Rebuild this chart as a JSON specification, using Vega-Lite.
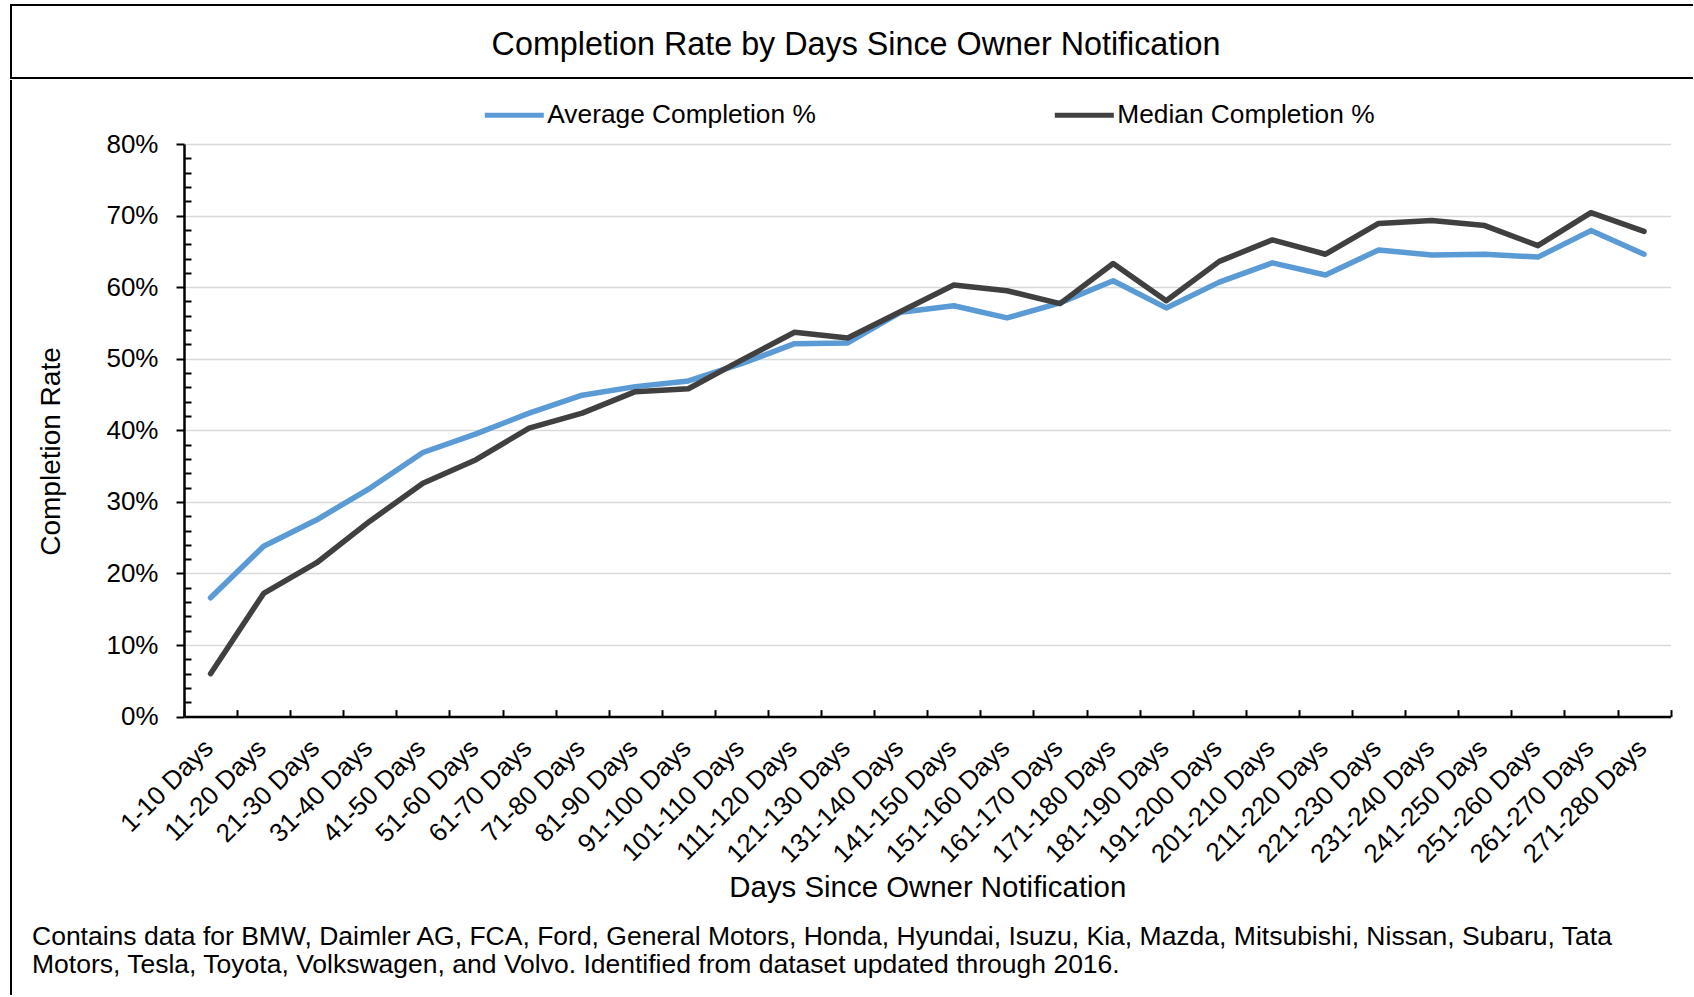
{
  "$schema": "https://vega.github.io/schema/vega-lite/v6.json",
  "padding": {"left": 10, "top": 4, "right": 0, "bottom": 0},
  "background": "white",
  "config": {
    "font": "Liberation Sans",
    "view": {"stroke": null}
  },
  "datasets": {
    "heading": [{"t": "Completion Rate by Days Since Owner Notification"}],
    "none": [],
    "rates": [
      {"cat": "1-10 Days", "series": "Average Completion %", "v": 0.166},
      {"cat": "11-20 Days", "series": "Average Completion %", "v": 0.238},
      {"cat": "21-30 Days", "series": "Average Completion %", "v": 0.275},
      {"cat": "31-40 Days", "series": "Average Completion %", "v": 0.319},
      {"cat": "41-50 Days", "series": "Average Completion %", "v": 0.369},
      {"cat": "51-60 Days", "series": "Average Completion %", "v": 0.395},
      {"cat": "61-70 Days", "series": "Average Completion %", "v": 0.424},
      {"cat": "71-80 Days", "series": "Average Completion %", "v": 0.449},
      {"cat": "81-90 Days", "series": "Average Completion %", "v": 0.461},
      {"cat": "91-100 Days", "series": "Average Completion %", "v": 0.469},
      {"cat": "101-110 Days", "series": "Average Completion %", "v": 0.493},
      {"cat": "111-120 Days", "series": "Average Completion %", "v": 0.521},
      {"cat": "121-130 Days", "series": "Average Completion %", "v": 0.522},
      {"cat": "131-140 Days", "series": "Average Completion %", "v": 0.565},
      {"cat": "141-150 Days", "series": "Average Completion %", "v": 0.574},
      {"cat": "151-160 Days", "series": "Average Completion %", "v": 0.557},
      {"cat": "161-170 Days", "series": "Average Completion %", "v": 0.578},
      {"cat": "171-180 Days", "series": "Average Completion %", "v": 0.609},
      {"cat": "181-190 Days", "series": "Average Completion %", "v": 0.571},
      {"cat": "191-200 Days", "series": "Average Completion %", "v": 0.607},
      {"cat": "201-210 Days", "series": "Average Completion %", "v": 0.634},
      {"cat": "211-220 Days", "series": "Average Completion %", "v": 0.617},
      {"cat": "221-230 Days", "series": "Average Completion %", "v": 0.652},
      {"cat": "231-240 Days", "series": "Average Completion %", "v": 0.645},
      {"cat": "241-250 Days", "series": "Average Completion %", "v": 0.646},
      {"cat": "251-260 Days", "series": "Average Completion %", "v": 0.642},
      {"cat": "261-270 Days", "series": "Average Completion %", "v": 0.679},
      {"cat": "271-280 Days", "series": "Average Completion %", "v": 0.646},
      {"cat": "1-10 Days", "series": "Median Completion %", "v": 0.060},
      {"cat": "11-20 Days", "series": "Median Completion %", "v": 0.172},
      {"cat": "21-30 Days", "series": "Median Completion %", "v": 0.215},
      {"cat": "31-40 Days", "series": "Median Completion %", "v": 0.273},
      {"cat": "41-50 Days", "series": "Median Completion %", "v": 0.326},
      {"cat": "51-60 Days", "series": "Median Completion %", "v": 0.359},
      {"cat": "61-70 Days", "series": "Median Completion %", "v": 0.403},
      {"cat": "71-80 Days", "series": "Median Completion %", "v": 0.424},
      {"cat": "81-90 Days", "series": "Median Completion %", "v": 0.454},
      {"cat": "91-100 Days", "series": "Median Completion %", "v": 0.458},
      {"cat": "101-110 Days", "series": "Median Completion %", "v": 0.498},
      {"cat": "111-120 Days", "series": "Median Completion %", "v": 0.537},
      {"cat": "121-130 Days", "series": "Median Completion %", "v": 0.529},
      {"cat": "131-140 Days", "series": "Median Completion %", "v": 0.566},
      {"cat": "141-150 Days", "series": "Median Completion %", "v": 0.603},
      {"cat": "151-160 Days", "series": "Median Completion %", "v": 0.595},
      {"cat": "161-170 Days", "series": "Median Completion %", "v": 0.577},
      {"cat": "171-180 Days", "series": "Median Completion %", "v": 0.633},
      {"cat": "181-190 Days", "series": "Median Completion %", "v": 0.581},
      {"cat": "191-200 Days", "series": "Median Completion %", "v": 0.636},
      {"cat": "201-210 Days", "series": "Median Completion %", "v": 0.666},
      {"cat": "211-220 Days", "series": "Median Completion %", "v": 0.646},
      {"cat": "221-230 Days", "series": "Median Completion %", "v": 0.689},
      {"cat": "231-240 Days", "series": "Median Completion %", "v": 0.693},
      {"cat": "241-250 Days", "series": "Median Completion %", "v": 0.686},
      {"cat": "251-260 Days", "series": "Median Completion %", "v": 0.658},
      {"cat": "261-270 Days", "series": "Median Completion %", "v": 0.704},
      {"cat": "271-280 Days", "series": "Median Completion %", "v": 0.678}
    ]
  },
  "spacing": 0,
  "resolve": {"scale": {"color": "independent"}, "legend": {"color": "independent"}},
  "vconcat": [
    {
      "data": {"name": "heading"},
      "width": 1682,
      "height": 73,
      "view": {"stroke": "black", "strokeWidth": 2, "strokeDash": [1682, 73, 1755]},
      "mark": {"type": "text", "fontSize": 32.3, "color": "black", "dx": 4, "dy": 3, "baseline": "middle", "align": "center"},
      "encoding": {"text": {"field": "t"}}
    },
    {
      "spacing": 19,
      "resolve": {"scale": {"color": "independent"}, "legend": {"color": "independent"}},
      "hconcat": [
        {
          "data": {"name": "none"},
          "width": 1,
          "height": 915,
          "view": {"stroke": "black", "strokeWidth": 2, "strokeDash": [0, 917, 1000]},
          "mark": "text",
          "encoding": {}
        },
        {
          "spacing": -2,
          "resolve": {"scale": {"color": "independent"}, "legend": {"color": "independent"}},
          "vconcat": [
            {
              "data": {"name": "none"},
              "width": 1,
              "height": 1,
              "view": {"fill": "white", "stroke": null},
              "mark": "text",
              "encoding": {}
            },
            {
              "data": {"name": "rates"},
              "width": 1486.6,
              "height": 572.6,
              "title": {
                "text": [
                  "Contains data for BMW, Daimler AG, FCA, Ford, General Motors, Honda, Hyundai, Isuzu, Kia, Mazda, Mitsubishi, Nissan, Subaru, Tata",
                  "Motors, Tesla, Toyota, Volkswagen, and Volvo. Identified from dataset updated through 2016."
                ],
                "orient": "bottom",
                "anchor": "start",
                "frame": "bounds",
                "fontSize": 26.5,
                "fontWeight": "normal",
                "color": "black",
                "lineHeight": 28,
                "offset": 22,
                "dx": -5
              },
              "mark": {"type": "line", "strokeWidth": 5.5, "strokeCap": "round", "strokeJoin": "round"},
              "encoding": {
                "x": {
                  "field": "cat",
                  "type": "ordinal",
                  "sort": null,
                  "bandPosition": 0.5,
                  "scale": {"type": "band", "paddingInner": 0, "paddingOuter": 0},
                  "axis": {
                    "title": "Days Since Owner Notification",
                    "titleFontSize": 29.4,
                    "titleFontWeight": "normal",
                    "titleColor": "black",
                    "titleY": 171,
                    "titleBaseline": "middle",
                    "labelAngle": -45,
                    "labelAlign": "right",
                    "labelBaseline": "middle",
                    "labelFontSize": 26,
                    "labelColor": "black",
                    "labelPadding": 34,
                    "labelOffset": -2,
                    "labelOverlap": false,
                    "tickBand": "extent",
                    "tickSize": -7,
                    "tickColor": "black",
                    "tickWidth": 2,
                    "domainColor": "black",
                    "domainWidth": 2.5,
                    "grid": false
                  }
                },
                "y": {
                  "field": "v",
                  "type": "quantitative",
                  "scale": {"domain": [0, 0.8], "nice": false},
                  "axis": {
                    "title": "Completion Rate",
                    "titleFontSize": 28,
                    "titleFontWeight": "normal",
                    "titleColor": "black",
                    "titleX": -133,
                    "titleY": 307,
                    "titleBaseline": "middle",
                    "values": [0, 0.02, 0.04, 0.06, 0.08, 0.1, 0.12, 0.14, 0.16, 0.18, 0.2, 0.22, 0.24, 0.26, 0.28, 0.3, 0.32, 0.34, 0.36, 0.38, 0.4, 0.42, 0.44, 0.46, 0.48, 0.5, 0.52, 0.54, 0.56, 0.58, 0.6, 0.62, 0.64, 0.66, 0.68, 0.7, 0.72, 0.74, 0.76, 0.78, 0.8],
                    "labelExpr": "round(datum.value * 100) % 10 == 0 ? format(datum.value, '.0%') : ''",
                    "labelFontSize": 26,
                    "labelColor": "black",
                    "labelPadding": 18,
                    "tickSize": {"condition": {"test": "round(datum.value * 100) % 10 != 0", "value": -7}, "value": 8},
                    "tickColor": "black",
                    "tickWidth": 2,
                    "domainColor": "black",
                    "domainWidth": 2.5,
                    "grid": true,
                    "gridColor": "#D9D9D9",
                    "gridWidth": 1.5,
                    "gridOpacity": {"condition": {"test": "round(datum.value * 100) % 10 != 0", "value": 0}, "value": 1}
                  }
                },
                "color": {
                  "field": "series",
                  "type": "nominal",
                  "scale": {"domain": ["Average Completion %", "Median Completion %"], "range": ["#5B9BD5", "#404040"]},
                  "legend": {
                    "title": null,
                    "orient": "none",
                    "legendX": 294.6,
                    "legendY": -64.7,
                    "direction": "horizontal",
                    "padding": 3.7,
                    "labelFontSize": 26.3,
                    "labelColor": "black",
                    "labelLimit": 0,
                    "symbolType": "stroke",
                    "symbolSize": 3481,
                    "symbolStrokeWidth": 5,
                    "labelOffset": 1,
                    "columnPadding": 228
                  }
                }
              }
            }
          ]
        }
      ]
    }
  ]
}
